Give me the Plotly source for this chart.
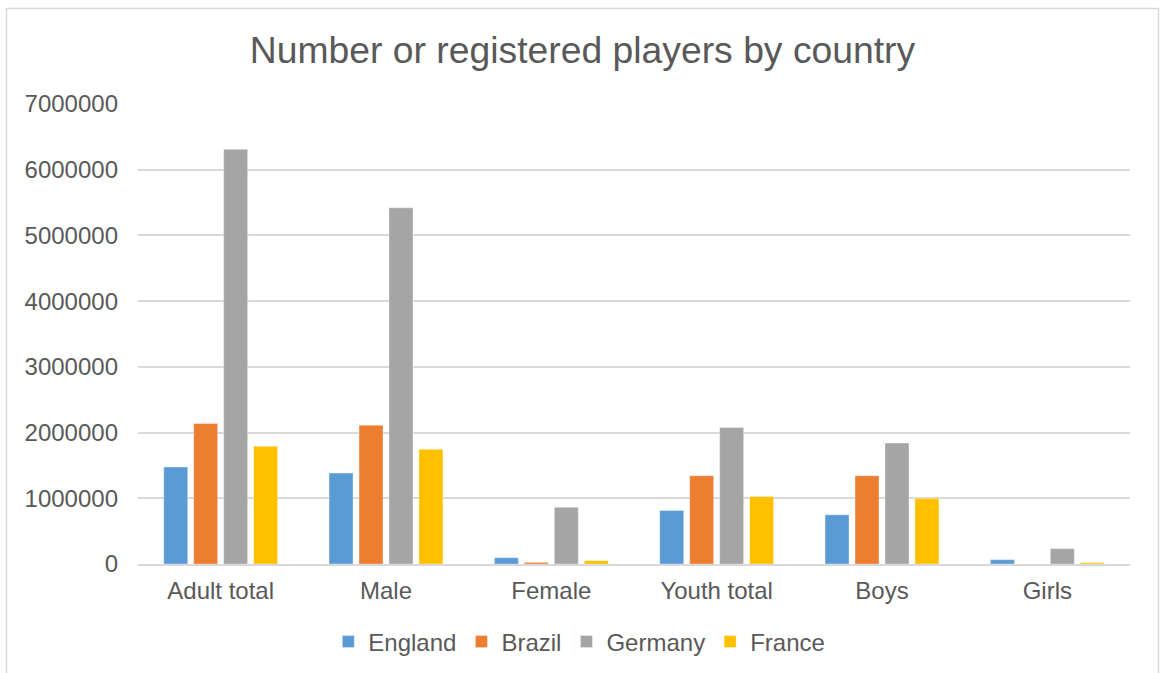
import plotly.graph_objects as go

categories = ["Adult total", "Male", "Female", "Youth total", "Boys", "Girls"]
england = [1475000, 1383000, 96000, 814000, 748000, 66000]
brazil = [2137000, 2110000, 25000, 1343000, 1343000, 0]
germany = [6310000, 5420000, 864000, 2076000, 1840000, 234000]
france = [1790000, 1745000, 50000, 1028000, 1000000, 20000]

series = [
    ("England", england, "#5B9BD5"),
    ("Brazil", brazil, "#ED7D31"),
    ("Germany", germany, "#A5A5A5"),
    ("France", france, "#FFC000"),
]

W, H = 1161, 673
FONT = "Liberation Sans, Arial, sans-serif"
TXT = "#595959"

fig = go.Figure()
for name, vals, col in series:
    fig.add_trace(go.Bar(
        x=categories, y=vals, name=name,
        marker=dict(color=col, line=dict(width=1, color="rgba(255,255,255,0.35)")),
    ))

fig.update_layout(
    width=W, height=H,
    margin=dict(l=0, r=0, t=0, b=0, autoexpand=False),
    paper_bgcolor="white", plot_bgcolor="white",
    barmode="group", bargap=0.275, bargroupgap=0.2,
    font=dict(family=FONT, color=TXT, size=24),
    title=dict(text="Number or registered players by country",
               x=0.5 + 2 / W, xanchor="center", xref="paper",
               y=(H - 50) / H, yanchor="middle", yref="paper",
               font=dict(size=37.3, color=TXT, family=FONT)),
    xaxis=dict(domain=[138 / W, 1130 / W], showgrid=False, showline=True,
               linecolor="#D9D9D9", linewidth=1.5, ticks="", automargin=False,
               ticklabelstandoff=4,
               tickfont=dict(size=24, color=TXT), anchor="y"),
    yaxis=dict(domain=[(H - 564) / H, (H - 104) / H], range=[0, 7000000],
               dtick=1000000, tickformat="d", showgrid=True, gridcolor="#D9D9D9",
               gridwidth=1.5, zeroline=False, showline=False, ticks="", automargin=False,
               ticklabelstandoff=19, tickfont=dict(size=24, color=TXT)),
    legend=dict(orientation="h", x=0.499, xanchor="center",
                y=(H - 642) / H, yanchor="middle", itemwidth=30,
                font=dict(size=24, color=TXT), traceorder="normal"),
    showlegend=True,
)

fig.add_shape(type="rect", xref="paper", yref="paper",
              x0=6.5 / W, x1=1158.5 / W, y0=-0.05, y1=(H - 8.5) / H,
              line=dict(color="#D9D9D9", width=1.5), fillcolor="rgba(0,0,0,0)",
              layer="below")

fig.write_html("out.html")
